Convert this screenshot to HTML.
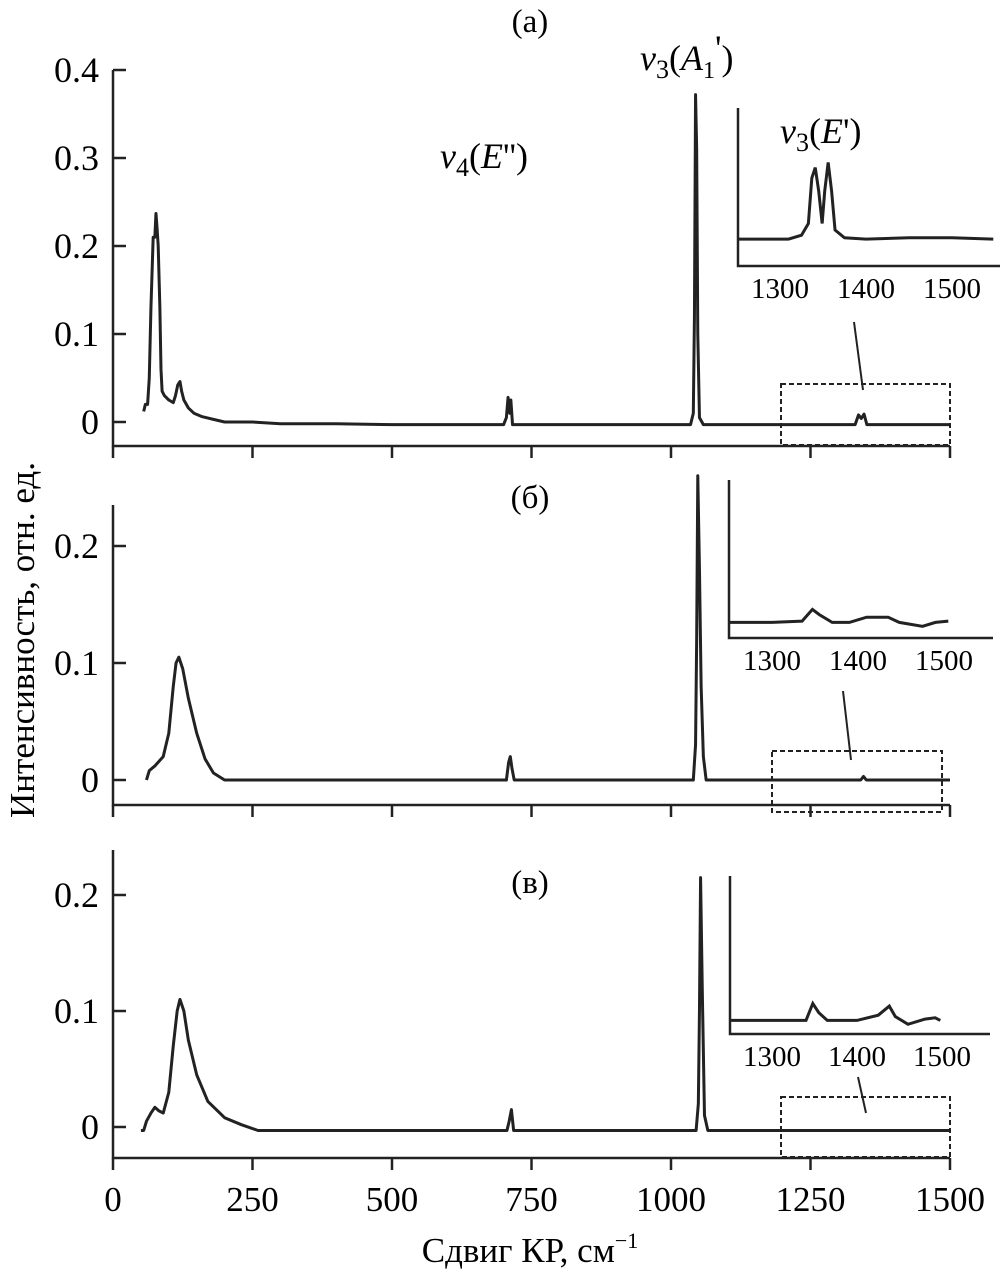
<!DOCTYPE html>
<html><head><meta charset="utf-8"><style>
body{margin:0;background:#fff}
svg{display:block;font-family:"Liberation Serif",serif}
</style></head><body>
<svg id="c" width="1003" height="1280" viewBox="0 0 1003 1280">
<g id="g"></g>
<text x="530" y="32" font-size="33" text-anchor="middle">(a)</text>
<text x="530" y="508" font-size="33" text-anchor="middle">(б)</text>
<text x="530" y="893" font-size="33" text-anchor="middle">(в)</text>
<text x="640" y="70" font-size="36" font-style="italic">v<tspan font-size="26" font-style="normal" dy="8">3</tspan><tspan font-style="normal" dy="-8">(</tspan>A<tspan font-size="24" font-style="normal" dy="8">1</tspan><tspan font-style="normal" dy="-18">'</tspan><tspan font-style="normal" dy="10">)</tspan></text>
<text x="440" y="168" font-size="36" font-style="italic">v<tspan font-size="26" font-style="normal" dy="8">4</tspan><tspan font-style="normal" dy="-8">(</tspan>E<tspan font-style="normal">'')</tspan></text>
<text x="780" y="143" font-size="36" font-style="italic">v<tspan font-size="26" font-style="normal" dy="8">3</tspan><tspan font-style="normal" dy="-8">(</tspan>E<tspan font-style="normal">')</tspan></text>
<text transform="translate(34,640) rotate(-90)" font-size="35" text-anchor="middle">Интенсивность, отн. ед.</text>
<text x="530" y="1262" font-size="35" text-anchor="middle">Сдвиг КР, см<tspan font-size="22" dy="-14">−1</tspan></text>
</svg>
<script>
const xTicks=[0,250,500,750,1000,1250,1500];
const aY=[0,0.1,0.2,0.3,0.4];
const bY=[0,0.1,0.2];
const cY=[0,0.1,0.2];
const specA=[[55,0.012],[58,0.02],[62,0.02],[65,0.05],[68,0.13],[72,0.21],[75,0.21],[77,0.237],[79,0.22],[81,0.2],[84,0.13],[86,0.06],[88,0.035],[92,0.03],[100,0.025],[108,0.022],[112,0.03],[116,0.042],[120,0.046],[123,0.035],[127,0.025],[135,0.016],[145,0.01],[160,0.006],[180,0.003],[200,0],[250,0],[300,-0.002],[400,-0.002],[500,-0.003],[700,-0.003],[705,0.005],[708,0.028],[711,0.01],[713,0.025],[716,-0.003],[1035,-0.003],[1040,0.01],[1042,0.12],[1044,0.372],[1046,0.31],[1048,0.1],[1051,0.005],[1058,-0.003],[1330,-0.003],[1336,0.008],[1341,0.004],[1346,0.009],[1351,-0.003],[1500,-0.003]];
const specB=[[60,0],[65,0.008],[75,0.012],[90,0.02],[100,0.04],[108,0.08],[113,0.1],[118,0.105],[125,0.095],[135,0.07],[150,0.04],[165,0.018],[180,0.006],[200,0],[705,0],[709,0.015],[712,0.02],[715,0.01],[719,0],[1040,0],[1044,0.03],[1046,0.12],[1048,0.26],[1051,0.18],[1054,0.08],[1058,0.02],[1063,0],[1340,0],[1345,0.003],[1350,0],[1500,0]];
const specC=[[50,-0.003],[55,-0.003],[60,0.005],[68,0.012],[75,0.017],[82,0.014],[90,0.012],[100,0.03],[108,0.07],[115,0.1],[120,0.11],[127,0.1],[135,0.075],[150,0.045],[170,0.022],[200,0.008],[230,0.002],[260,-0.003],[706,-0.003],[710,0.005],[714,0.015],[718,-0.003],[1045,-0.003],[1049,0.02],[1051,0.1],[1053,0.215],[1056,0.12],[1060,0.01],[1066,-0.003],[1500,-0.003]];
const inA=[[1250,0.003],[1310,0.003],[1325,0.006],[1333,0.015],[1337,0.05],[1341,0.058],[1345,0.04],[1349,0.015],[1352,0.04],[1356,0.062],[1360,0.04],[1364,0.01],[1375,0.004],[1400,0.003],[1450,0.004],[1500,0.004],[1548,0.003]];
const inB=[[1250,0.002],[1300,0.002],[1335,0.003],[1347,0.012],[1355,0.008],[1370,0.002],[1390,0.002],[1410,0.006],[1435,0.006],[1448,0.002],[1475,-0.001],[1490,0.002],[1505,0.003]];
const inC=[[1250,0.002],[1300,0.002],[1340,0.002],[1348,0.015],[1355,0.008],[1365,0.002],[1400,0.002],[1425,0.006],[1438,0.013],[1445,0.005],[1460,-0.001],[1480,0.003],[1492,0.004],[1498,0.002]];
const insetTicks=[1300,1400,1500];
const NS='http://www.w3.org/2000/svg';
const g=document.getElementById('g');
function mk(t,a){const e=document.createElementNS(NS,t);for(const k in a)e.setAttribute(k,a[k]);g.appendChild(e);return e;}
function panel(name,yTicks,y0,yPer,top,bottom,spec,showX){
 const X=v=>113+v*837/1500, Y=v=>y0-v*yPer*100;
 let e=mk('path',{d:`M113 ${top}V${bottom}H950`,fill:'none',stroke:'#222','stroke-width':2.5});
 
 
 xTicks.forEach(t=>{mk('line',{x1:X(t),x2:X(t),y1:bottom,y2:bottom+12,stroke:'#222','stroke-width':2.5});
  if(showX){const tx=mk('text',{x:X(t),y:bottom+53,'font-size':35,'text-anchor':'middle'});tx.textContent=t;
   
   }});
 yTicks.forEach(t=>{mk('line',{x1:113,x2:126,y1:Y(t),y2:Y(t),stroke:'#222','stroke-width':2.5});
  const tx=mk('text',{x:99,y:Y(t)+12,'font-size':36,'text-anchor':'end'});tx.textContent=t;
  
  });
 const p=mk('polyline',{points:spec.map(d=>X(d[0])+','+Y(d[1])).join(' '),fill:'none',stroke:'#222','stroke-width':3,'stroke-linejoin':'round'});
 
 
}
function inset(name,ax,top,bot,right,x1300,pxPer100,base,yScale,data,box,lead){
 const X=v=>x1300+(v-1300)*pxPer100/100, Y=v=>base-v*yScale;
 let e=mk('path',{d:`M${ax} ${top}V${bot}H${right}`,fill:'none',stroke:'#222','stroke-width':2.5});
 
 
 insetTicks.forEach(t=>{const tx=mk('text',{x:X(t),y:bot+32,'font-size':29,'text-anchor':'middle'});tx.textContent=t;
  
  });
 const p=mk('polyline',{points:data.map(d=>X(d[0])+','+Y(d[1])).join(' '),fill:'none',stroke:'#222','stroke-width':3});
 
 
 const r=mk('rect',{x:box[0],y:box[1],width:box[2],height:box[3],fill:'none',stroke:'#222','stroke-width':2,'stroke-dasharray':'5,3'});
 
 
 const l=mk('line',{x1:lead[0],y1:lead[1],x2:lead[2],y2:lead[3],stroke:'#222','stroke-width':2});
 
 
}
panel('panel-a',aY,422,8.8,70,446,specA,false);
panel('panel-b',bY,780,11.7,505,805,specB,false);
panel('panel-c',cY,1127,11.6,850,1158,specC,true);
inset('panel-a',738,108,266,1000,780,86,243,1300,inA,[781,384,169,61],[854,322,863,390]);
inset('panel-b',729,480,638,993,772,86,625,1300,inB,[772,751,170,61],[843,691,851,760]);
inset('panel-c',730,876,1034,990,772,85,1023,1300,inC,[781,1097,169,60],[858,1077,866,1113]);
</script>
</body></html>
